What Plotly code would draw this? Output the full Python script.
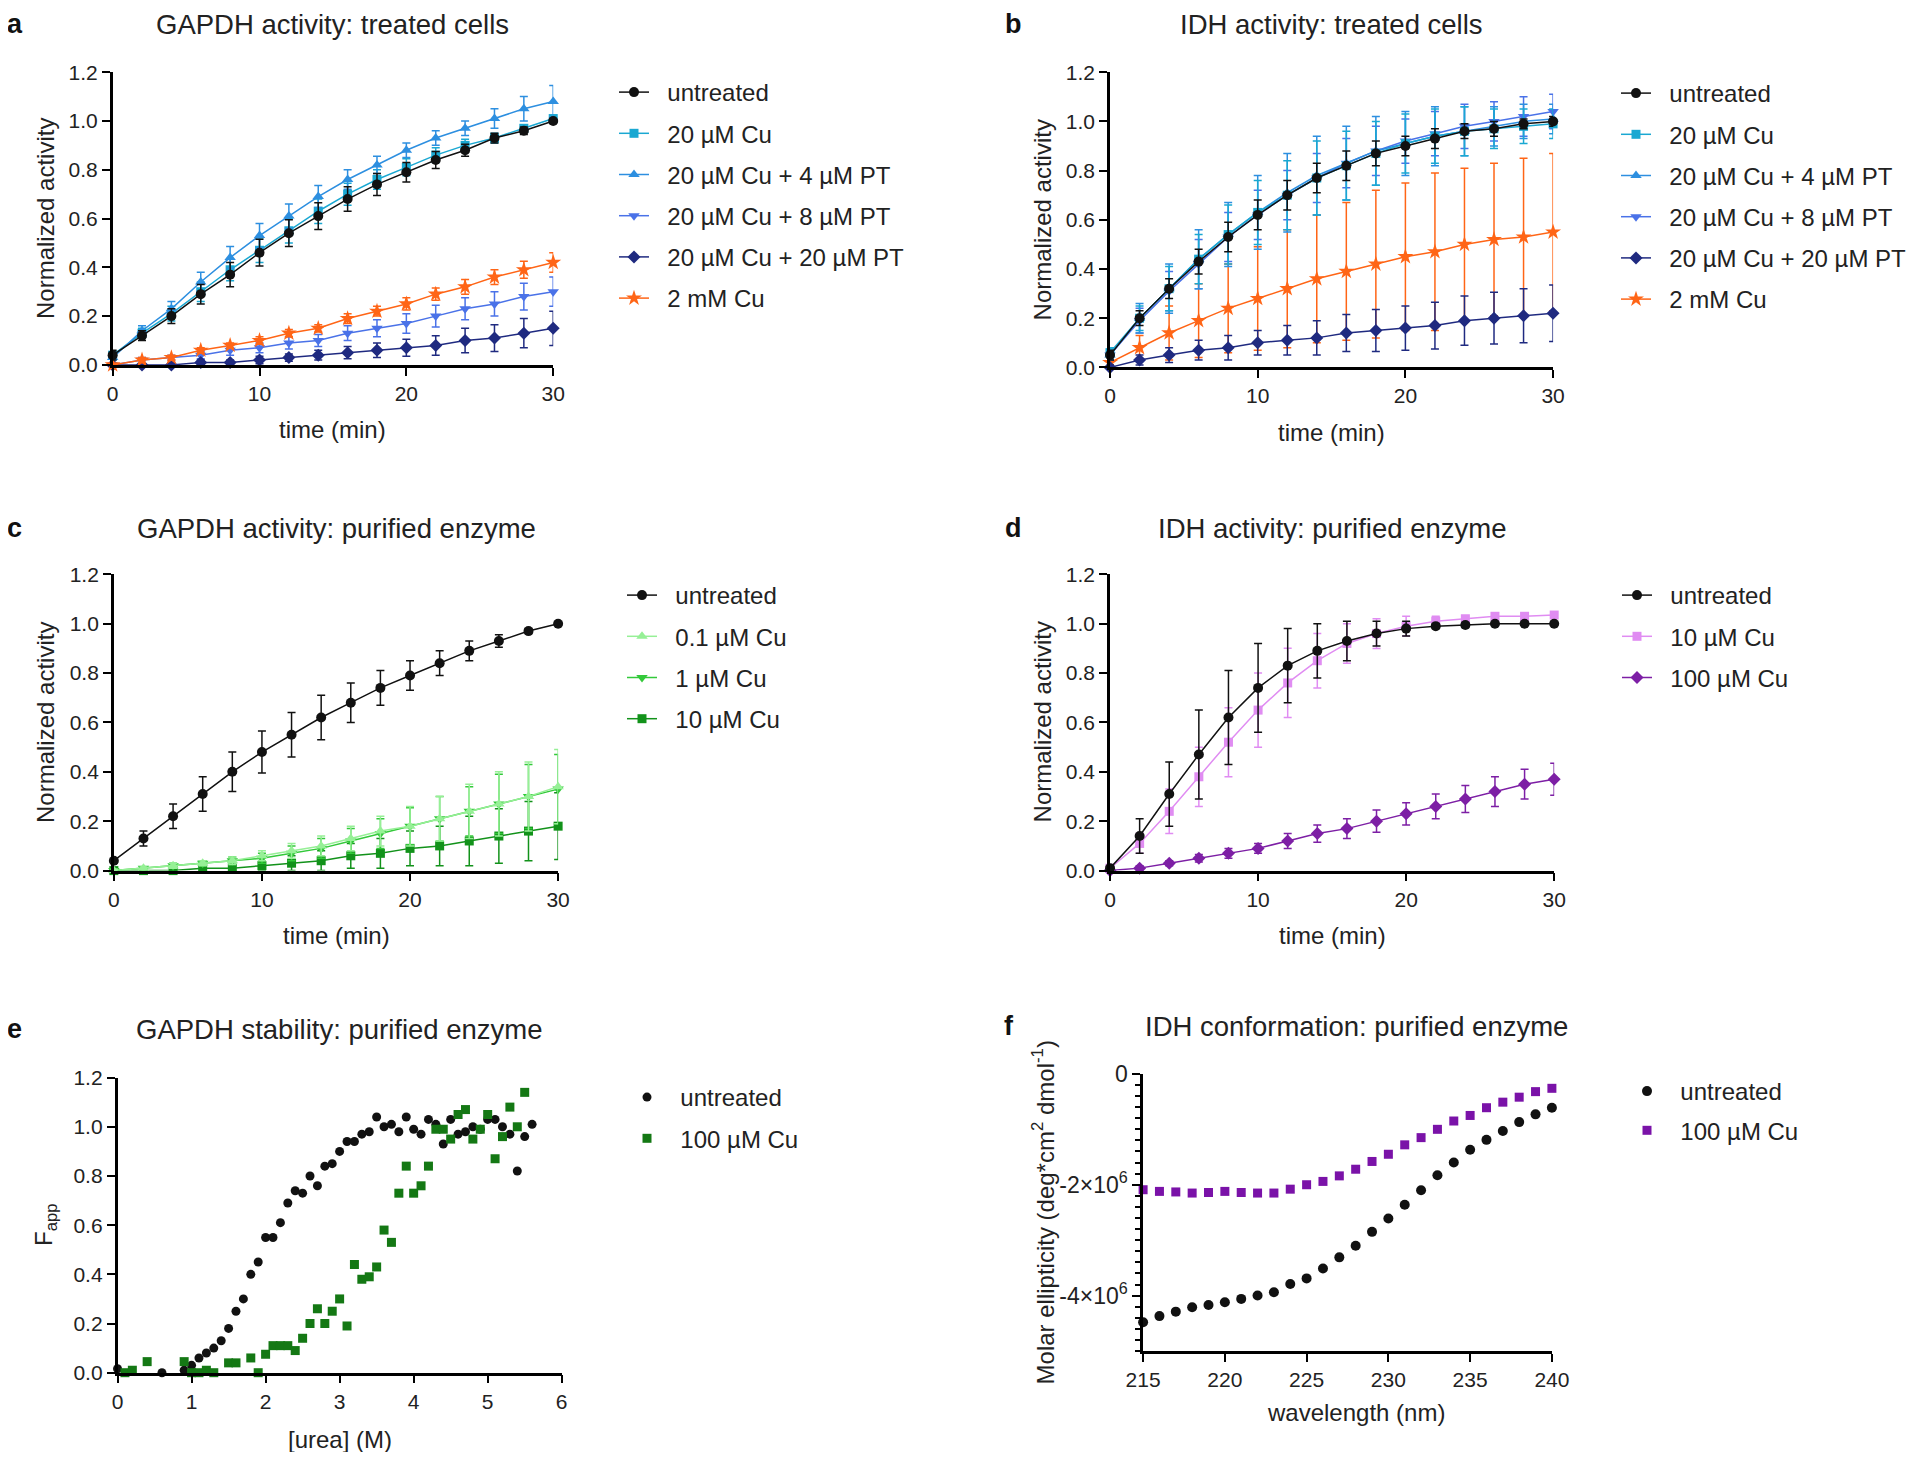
import plotly.graph_objects as go

# page is 1920x1460; the browser body keeps an 8 px margin, so the figure is sized to fit inside it
PAGE_MARGIN = 8
W, H = 1920 - 2 * PAGE_MARGIN, 1460 - 2 * PAGE_MARGIN
FONT = "Liberation Sans, Arial, Helvetica, sans-serif"

# ---------------- data ----------------
time = [0, 2, 4, 6, 8, 10, 12, 14, 16, 18, 20, 22, 24, 26, 28, 30]

# panel a: GAPDH activity, treated cells
a_untreated = [0.04, 0.12, 0.20, 0.29, 0.37, 0.46, 0.54, 0.61, 0.68, 0.74, 0.79, 0.84, 0.88, 0.93, 0.96, 1.00]
a_untreated_err = [0.02, 0.02, 0.03, 0.04, 0.05, 0.055, 0.055, 0.055, 0.05, 0.045, 0.04, 0.035, 0.025, 0.02, 0.015, 0.01]
a_cu20 = [0.04, 0.13, 0.21, 0.30, 0.39, 0.47, 0.55, 0.63, 0.70, 0.76, 0.81, 0.86, 0.90, 0.93, 0.97, 1.01]
a_cu20_err = [0.01, 0.02, 0.03, 0.04, 0.045, 0.05, 0.05, 0.05, 0.045, 0.04, 0.035, 0.03, 0.025, 0.02, 0.015, 0.01]
a_pt4 = [0.03, 0.14, 0.23, 0.34, 0.44, 0.53, 0.61, 0.69, 0.76, 0.82, 0.88, 0.93, 0.97, 1.01, 1.05, 1.08]
a_pt4_err = [0.01, 0.02, 0.03, 0.04, 0.045, 0.05, 0.05, 0.045, 0.04, 0.035, 0.03, 0.03, 0.03, 0.04, 0.05, 0.065]
a_pt8 = [0.0, 0.02, 0.03, 0.04, 0.06, 0.07, 0.09, 0.10, 0.13, 0.15, 0.17, 0.20, 0.23, 0.25, 0.28, 0.30]
a_pt8_err = [0.005, 0.01, 0.01, 0.015, 0.02, 0.02, 0.025, 0.025, 0.03, 0.035, 0.04, 0.045, 0.045, 0.05, 0.055, 0.06]
a_pt20 = [0.0, 0.0, 0.0, 0.01, 0.01, 0.02, 0.03, 0.04, 0.05, 0.06, 0.07, 0.08, 0.10, 0.11, 0.13, 0.15]
a_pt20_err = [0.005, 0.005, 0.005, 0.01, 0.01, 0.015, 0.015, 0.02, 0.025, 0.03, 0.035, 0.04, 0.05, 0.055, 0.06, 0.07]
a_cu2mm = [0.0, 0.02, 0.03, 0.06, 0.08, 0.10, 0.13, 0.15, 0.19, 0.22, 0.25, 0.29, 0.32, 0.36, 0.39, 0.42]
a_cu2mm_err = [0.005, 0.01, 0.01, 0.01, 0.01, 0.015, 0.015, 0.015, 0.02, 0.02, 0.025, 0.025, 0.03, 0.03, 0.035, 0.04]

# panel b: IDH activity, treated cells
b_untreated = [0.05, 0.20, 0.32, 0.43, 0.53, 0.62, 0.70, 0.77, 0.82, 0.87, 0.90, 0.93, 0.96, 0.97, 0.99, 1.00]
b_untreated_err = [0.02, 0.03, 0.04, 0.05, 0.06, 0.06, 0.06, 0.06, 0.06, 0.05, 0.04, 0.04, 0.03, 0.03, 0.02, 0.02]
b_cu20 = [0.06, 0.20, 0.32, 0.44, 0.54, 0.63, 0.70, 0.77, 0.82, 0.87, 0.91, 0.94, 0.96, 0.97, 0.98, 0.99]
b_cu20_err = [0.02, 0.05, 0.09, 0.10, 0.12, 0.13, 0.14, 0.15, 0.14, 0.13, 0.12, 0.11, 0.10, 0.08, 0.07, 0.06]
b_pt4 = [0.05, 0.20, 0.32, 0.44, 0.54, 0.63, 0.71, 0.78, 0.83, 0.88, 0.91, 0.94, 0.96, 0.98, 1.00, 1.01]
b_pt4_err = [0.02, 0.06, 0.10, 0.12, 0.13, 0.15, 0.16, 0.16, 0.15, 0.14, 0.13, 0.12, 0.10, 0.08, 0.07, 0.06]
b_pt8 = [0.05, 0.19, 0.31, 0.42, 0.53, 0.62, 0.70, 0.77, 0.83, 0.88, 0.92, 0.95, 0.98, 1.00, 1.02, 1.04]
b_pt8_err = [0.02, 0.05, 0.08, 0.10, 0.10, 0.10, 0.10, 0.10, 0.10, 0.10, 0.09, 0.09, 0.09, 0.08, 0.08, 0.07]
b_pt20 = [0.0, 0.03, 0.05, 0.07, 0.08, 0.10, 0.11, 0.12, 0.14, 0.15, 0.16, 0.17, 0.19, 0.20, 0.21, 0.22]
b_pt20_err = [0.01, 0.02, 0.03, 0.04, 0.05, 0.05, 0.06, 0.07, 0.075, 0.085, 0.09, 0.095, 0.10, 0.105, 0.11, 0.115]
b_cu2mm = [0.02, 0.08, 0.14, 0.19, 0.24, 0.28, 0.32, 0.36, 0.39, 0.42, 0.45, 0.47, 0.50, 0.52, 0.53, 0.55]
b_cu2mm_err = [0.01, 0.05, 0.11, 0.15, 0.18, 0.21, 0.24, 0.26, 0.28, 0.30, 0.30, 0.32, 0.31, 0.31, 0.32, 0.32]

# panel c: GAPDH activity, purified enzyme
c_untreated = [0.04, 0.13, 0.22, 0.31, 0.40, 0.48, 0.55, 0.62, 0.68, 0.74, 0.79, 0.84, 0.89, 0.93, 0.97, 1.00]
c_untreated_err = [0.01, 0.03, 0.05, 0.07, 0.08, 0.085, 0.09, 0.09, 0.08, 0.07, 0.06, 0.05, 0.04, 0.025, 0.01, 0.005]
c_cu01 = [0.0, 0.01, 0.02, 0.03, 0.04, 0.06, 0.08, 0.10, 0.13, 0.16, 0.18, 0.21, 0.24, 0.27, 0.30, 0.34]
c_cu01_err = [0.005, 0.005, 0.01, 0.01, 0.015, 0.02, 0.03, 0.04, 0.05, 0.06, 0.08, 0.09, 0.11, 0.13, 0.14, 0.15]
c_cu1 = [0.0, 0.01, 0.02, 0.03, 0.04, 0.05, 0.07, 0.09, 0.12, 0.15, 0.18, 0.21, 0.24, 0.27, 0.30, 0.33]
c_cu1_err = [0.005, 0.005, 0.01, 0.01, 0.015, 0.02, 0.03, 0.04, 0.05, 0.06, 0.075, 0.09, 0.10, 0.12, 0.13, 0.14]
c_cu10 = [0.0, 0.0, 0.0, 0.01, 0.01, 0.02, 0.03, 0.04, 0.06, 0.07, 0.09, 0.10, 0.12, 0.14, 0.16, 0.18]
c_cu10_err = [0.005, 0.005, 0.005, 0.01, 0.01, 0.02, 0.03, 0.04, 0.05, 0.06, 0.07, 0.08, 0.10, 0.11, 0.12, 0.135]

# panel d: IDH activity, purified enzyme
d_untreated = [0.01, 0.14, 0.31, 0.47, 0.62, 0.74, 0.83, 0.89, 0.93, 0.96, 0.98, 0.99, 0.995, 1.0, 1.0, 1.0]
d_untreated_err = [0.01, 0.07, 0.13, 0.18, 0.19, 0.18, 0.15, 0.11, 0.08, 0.05, 0.03, 0.01, 0.01, 0.005, 0.005, 0.005]
d_cu10 = [0.01, 0.11, 0.24, 0.38, 0.52, 0.65, 0.76, 0.85, 0.92, 0.96, 0.99, 1.01, 1.02, 1.03, 1.03, 1.035]
d_cu10_err = [0.01, 0.04, 0.09, 0.12, 0.14, 0.15, 0.14, 0.11, 0.08, 0.06, 0.04, 0.02, 0.01, 0.01, 0.01, 0.01]
d_cu100 = [0.0, 0.01, 0.03, 0.05, 0.07, 0.09, 0.12, 0.15, 0.17, 0.20, 0.23, 0.26, 0.29, 0.32, 0.35, 0.37]
d_cu100_err = [0.005, 0.01, 0.01, 0.015, 0.02, 0.02, 0.03, 0.035, 0.04, 0.045, 0.045, 0.05, 0.055, 0.06, 0.06, 0.065]

# panel e: GAPDH stability (urea denaturation)
e_untreated_urea = [0.0, 0.6, 0.8, 0.9, 1.0, 1.1, 1.2, 1.3, 1.4, 1.5, 1.6, 1.7, 1.8, 1.9, 2.0, 2.1, 2.2, 2.3,
                    2.4, 2.5, 2.6, 2.7, 2.8, 2.9, 3.0, 3.1, 3.2, 3.3, 3.4, 3.5, 3.6, 3.7, 3.8, 3.9, 4.0, 4.1,
                    4.2, 4.3, 4.4, 4.5, 4.6, 4.7, 4.8, 4.9, 5.0, 5.1, 5.2, 5.3, 5.4, 5.5, 5.6]
e_untreated_f = [0.016, 0.0, -0.01, 0.01, 0.03, 0.06, 0.08, 0.10, 0.13, 0.18, 0.25, 0.30, 0.40, 0.45, 0.55,
                 0.55, 0.61, 0.69, 0.74, 0.73, 0.80, 0.76, 0.84, 0.85, 0.90, 0.94, 0.94, 0.97, 0.98, 1.04,
                 1.00, 1.01, 0.98, 1.04, 0.99, 0.97, 1.03, 1.01, 0.93, 1.03, 0.97, 0.98, 1.00, 0.99, 1.03,
                 1.03, 1.00, 0.97, 0.82, 0.96, 1.01]
e_cu_urea = [0.1, 0.2, 0.4, 0.9, 1.0, 1.1, 1.2, 1.3, 1.5, 1.6, 1.8, 1.9, 2.0, 2.1, 2.2, 2.3, 2.4, 2.5, 2.6,
             2.7, 2.8, 2.9, 3.0, 3.1, 3.2, 3.3, 3.4, 3.5, 3.6, 3.7, 3.8, 3.9, 4.0, 4.1, 4.2, 4.3, 4.4,
             4.5, 4.6, 4.7, 4.8, 4.9, 5.0, 5.1, 5.2, 5.3, 5.4, 5.5]
e_cu_f = [0.0, 0.01, 0.045, 0.045, 0.0, 0.0, 0.01, 0.0, 0.04, 0.04, 0.06, 0.0, 0.075, 0.11, 0.11, 0.11,
          0.09, 0.14, 0.20, 0.26, 0.20, 0.25, 0.30, 0.19, 0.44, 0.38, 0.39, 0.43, 0.58, 0.53, 0.73, 0.84,
          0.73, 0.76, 0.84, 0.99, 0.99, 0.95, 1.05, 1.07, 0.95, 0.99, 1.05, 0.87, 0.96, 1.08, 1.00, 1.14]

# panel f: IDH conformation (CD spectrum)
f_wavelength = [215, 216, 217, 218, 219, 220, 221, 222, 223, 224, 225, 226, 227, 228, 229, 230, 231, 232,
                233, 234, 235, 236, 237, 238, 239, 240]
f_untreated = [-4.48e6, -4.37e6, -4.29e6, -4.21e6, -4.17e6, -4.12e6, -4.06e6, -4.00e6, -3.94e6, -3.79e6,
               -3.69e6, -3.51e6, -3.31e6, -3.10e6, -2.85e6, -2.61e6, -2.36e6, -2.10e6, -1.83e6, -1.60e6,
               -1.37e6, -1.19e6, -1.03e6, -0.87e6, -0.73e6, -0.61e6]
f_cu100 = [-2.09e6, -2.12e6, -2.13e6, -2.15e6, -2.14e6, -2.12e6, -2.14e6, -2.15e6, -2.15e6, -2.08e6,
           -2.00e6, -1.94e6, -1.84e6, -1.72e6, -1.58e6, -1.45e6, -1.28e6, -1.15e6, -1.00e6, -0.85e6,
           -0.75e6, -0.61e6, -0.51e6, -0.42e6, -0.32e6, -0.26e6]

y_ticks = [0.0, 0.2, 0.4, 0.6, 0.8, 1.0, 1.2]
f_tickvals = [0, -2e6, -4e6]
f_ticktext = ["0", "-2×10<sup>6</sup>", "-4×10<sup>6</sup>"]

# colours
BLACK = "#111111"
CYAN = "#1aa8d2"
BLUE4 = "#2d8fe0"
BLUE8 = "#4a72e8"
NAVY = "#1f2a80"
ORANGE = "#ff6516"
LGREEN = "#96f096"
MGREEN = "#33c93a"
DGREEN = "#12921a"
VIOLET = "#e08cf2"
PURPLE = "#7d1fa5"
EGREEN = "#147814"
FPURPLE = "#7a12a8"

GAP = "\u00a0\u00a0"  # spacing between legend symbol and label

fig = go.Figure()


def px_x(v):
    # page pixel -> paper fraction
    return (v - PAGE_MARGIN) / W


def px_y(v):
    return 1 - (v - PAGE_MARGIN) / H


def add(panel, x, y, err, name, color, symbol, rank, size=10, lines=True):
    ax = "" if panel == 1 else str(panel)
    leg = "legend" if panel == 1 else f"legend{panel}"
    tr = dict(
        x=x, y=y, name=GAP + name, xaxis="x" + ax, yaxis="y" + ax, legend=leg,
        legendrank=rank, legendgroup=f"p{panel}_{rank}",
        mode="lines+markers" if lines else "markers",
        marker=dict(color=color, symbol=symbol, size=size, line=dict(width=0)),
        line=dict(color=color, width=1.5), cliponaxis=False,
    )
    if err is not None:
        tr["error_y"] = dict(type="data", array=err, color=color, thickness=1.5, width=4)
    fig.add_trace(go.Scatter(**tr))


# panel a (untreated drawn last so it sits on top)
add(1, time, a_cu20, a_cu20_err, "20 µM Cu", CYAN, "square", 2, 9)
add(1, time, a_pt4, a_pt4_err, "20 µM Cu + 4 µM PT", BLUE4, "triangle-up", 3, 10)
add(1, time, a_pt8, a_pt8_err, "20 µM Cu + 8 µM PT", BLUE8, "triangle-down", 4, 10)
add(1, time, a_pt20, a_pt20_err, "20 µM Cu + 20 µM PT", NAVY, "diamond", 5, 10)
add(1, time, a_cu2mm, a_cu2mm_err, "2 mM Cu", ORANGE, "star", 6, 12)
add(1, time, a_untreated, a_untreated_err, "untreated", BLACK, "circle", 1, 10)

# panel b
add(2, time, b_cu2mm, b_cu2mm_err, "2 mM Cu", ORANGE, "star", 6, 12)
add(2, time, b_pt20, b_pt20_err, "20 µM Cu + 20 µM PT", NAVY, "diamond", 5, 10)
add(2, time, b_pt8, b_pt8_err, "20 µM Cu + 8 µM PT", BLUE8, "triangle-down", 4, 10)
add(2, time, b_pt4, b_pt4_err, "20 µM Cu + 4 µM PT", BLUE4, "triangle-up", 3, 10)
add(2, time, b_cu20, b_cu20_err, "20 µM Cu", CYAN, "square", 2, 9)
add(2, time, b_untreated, b_untreated_err, "untreated", BLACK, "circle", 1, 10)

# panel c
add(3, time, c_cu10, c_cu10_err, "10 µM Cu", DGREEN, "square", 4, 9)
add(3, time, c_cu1, c_cu1_err, "1 µM Cu", MGREEN, "triangle-down", 3, 10)
add(3, time, c_cu01, c_cu01_err, "0.1 µM Cu", LGREEN, "triangle-up", 2, 10)
add(3, time, c_untreated, c_untreated_err, "untreated", BLACK, "circle", 1, 10)

# panel d
add(4, time, d_cu100, d_cu100_err, "100 µM Cu", PURPLE, "diamond", 3, 10)
add(4, time, d_cu10, d_cu10_err, "10 µM Cu", VIOLET, "square", 2, 9)
add(4, time, d_untreated, d_untreated_err, "untreated", BLACK, "circle", 1, 10)

# panel e
add(5, e_untreated_urea, e_untreated_f, None, "untreated", BLACK, "circle", 1, 9, lines=False)
add(5, e_cu_urea, e_cu_f, None, "100 µM Cu", EGREEN, "square", 2, 9, lines=False)

# panel f
add(6, f_wavelength, f_untreated, None, "untreated", BLACK, "circle", 1, 10, lines=False)
add(6, f_wavelength, f_cu100, None, "100 µM Cu", FPURPLE, "square", 2, 9, lines=False)

# ---------------- layout ----------------
panels = {
    # left, right, top, bottom (page pixels)
    1: (112.7, 553.5, 72.2, 364.9),
    2: (1110.6, 1553.9, 72.2, 367.4),
    3: (113.9, 558.4, 574.3, 870.6),
    4: (1110.6, 1555.0, 574.3, 870.6),
    5: (117.6, 562.0, 1077.6, 1372.7),
    6: (1143.7, 1552.7, 1073.9, 1351.0),
}

axis_common = dict(
    showline=True, linecolor="black", linewidth=2.5, ticks="outside", ticklen=8,
    tickwidth=2, tickcolor="black", showgrid=False, zeroline=False, automargin=False,
    tickfont=dict(family=FONT, size=21, color="#222222"), fixedrange=True,
)

layout = dict(
    template="none",
    width=W, height=H, margin=dict(l=0, r=0, t=0, b=0, pad=0), autosize=False,
    paper_bgcolor="white", plot_bgcolor="white",
    font=dict(family=FONT, color="#222222"),
)

for p, (l, r, t, b) in panels.items():
    ax = "" if p == 1 else str(p)
    xa = dict(axis_common, domain=[px_x(l), px_x(r)], anchor="y" + ax)
    ya = dict(axis_common, domain=[px_y(b), px_y(t)], anchor="x" + ax)
    if p <= 4:
        xa.update(range=[0, 30], tickvals=[0, 10, 20, 30])
        ya.update(range=[0, 1.2], tickvals=y_ticks, tickformat=".1f")
    elif p == 5:
        xa.update(range=[0, 6], tickvals=[0, 1, 2, 3, 4, 5, 6])
        ya.update(range=[0, 1.2], tickvals=y_ticks, tickformat=".1f")
    else:
        xa.update(range=[215, 240], tickvals=[215, 220, 225, 230, 235, 240])
        ya.update(range=[-5e6, 0], tickvals=f_tickvals, ticktext=f_ticktext,
                  tickfont=dict(family=FONT, size=23, color="#222222"),
                  minor=dict(dtick=2e5, tick0=0, ticks="outside", ticklen=5, tickwidth=2,
                             tickcolor="black"))
    layout["xaxis" + ax] = xa
    layout["yaxis" + ax] = ya

legend_pos = {
    # legend left x, first-row centre y, group gap (page pixels)
    1: (614, 92, 7),
    2: (1617, 93, 7),
    3: (622, 595, 7),
    4: (1617, 595, 7),
    5: (627, 1097, 7),
    6: (1627, 1091, 5),
}
for p, (lx, my, gap) in legend_pos.items():
    key = "legend" if p == 1 else f"legend{p}"
    layout[key] = dict(
        x=px_x(lx), y=px_y(my - 22), xanchor="left", yanchor="top",
        bgcolor="rgba(0,0,0,0)", borderwidth=0,
        traceorder="grouped", tracegroupgap=gap,
        font=dict(family=FONT, size=24, color="#222222"),
        itemclick=False, itemdoubleclick=False,
    )

annotations = []
titles = [
    ("a", "GAPDH activity: treated cells", 15, 333, 24.5),
    ("b", "IDH activity: treated cells", 1014, 1332, 24.5),
    ("c", "GAPDH activity: purified enzyme", 15, 337, 528),
    ("d", "IDH activity: purified enzyme", 1014, 1333, 528),
    ("e", "GAPDH stability: purified enzyme", 15, 340, 1029),
    ("f", "IDH conformation: purified enzyme", 1010, 1357, 1026),
]
for letter, title, lx, tx, ty in titles:
    annotations.append(dict(text=f"<b>{letter}</b>", x=px_x(lx), y=px_y(ty), xref="paper", yref="paper",
                            xanchor="center", yanchor="middle", showarrow=False,
                            font=dict(family=FONT, size=27, color="#111111")))
    annotations.append(dict(text=title, x=px_x(tx), y=px_y(ty), xref="paper", yref="paper",
                            xanchor="center", yanchor="middle", showarrow=False,
                            font=dict(family=FONT, size=27.5, color="#222222")))

axis_titles = [
    # text, x, y, angle (page pixels)
    ("time (min)", 333, 429, 0),
    ("time (min)", 1332, 432, 0),
    ("time (min)", 337, 935, 0),
    ("time (min)", 1333, 935, 0),
    ("[urea] (M)", 340, 1439, 0),
    ("wavelength (nm)", 1357, 1412, 0),
    ("Normalized activity", 45, 218, -90),
    ("Normalized activity", 1043, 220, -90),
    ("Normalized activity", 45, 722, -90),
    ("Normalized activity", 1043, 722, -90),
    ("F<sub>app</sub>", 45, 1224, -90),
    ("Molar ellipticity (deg*cm<sup>2</sup> dmol<sup>-1</sup>)", 1044, 1212, -90),
]
for text, x, y, ang in axis_titles:
    annotations.append(dict(text=text, x=px_x(x), y=px_y(y), xref="paper", yref="paper",
                            xanchor="center", yanchor="middle", showarrow=False, textangle=ang,
                            font=dict(family=FONT, size=24, color="#222222")))
layout["annotations"] = annotations

fig.update_layout(**layout)
fig.write_html("out.html")
